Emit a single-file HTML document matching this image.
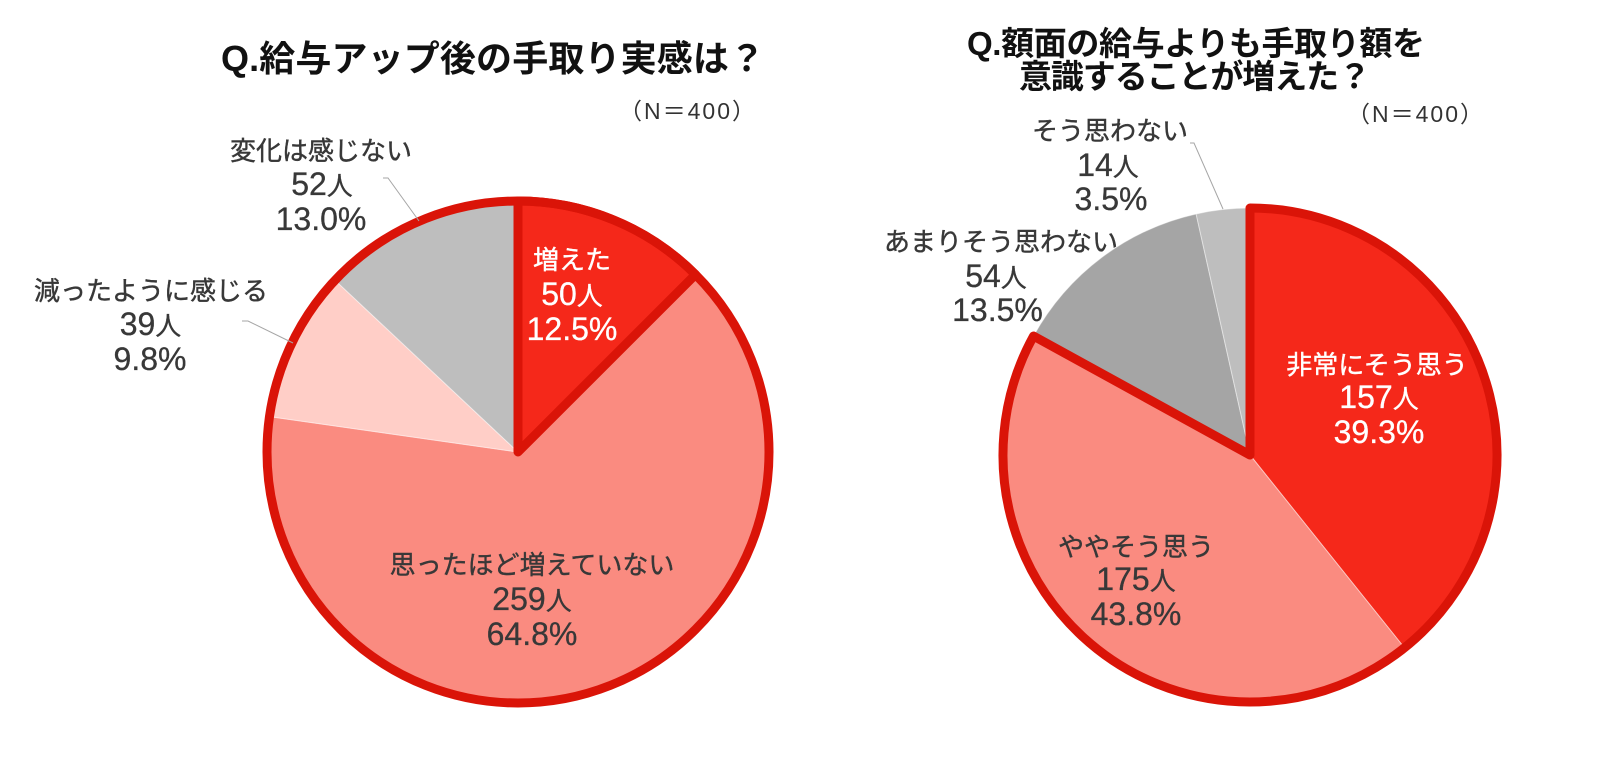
<!DOCTYPE html>
<html>
<head>
<meta charset="utf-8">
<style>
  html, body { margin: 0; padding: 0; background: #ffffff; }
  body { width: 1600px; height: 782px; overflow: hidden; }
  svg { display: block; }
  text { font-family: "Liberation Sans", "Noto Sans CJK JP", sans-serif; }
  .ttl { font-size: 36px; font-weight: bold; fill: #111111; }
  .ttl2 { font-size: 33px; font-weight: bold; fill: #111111; }
  .n { font-size: 23px; fill: #333333; letter-spacing: 2px; }
  .lb { font-size: 26px; fill: #383838; stroke: #383838; stroke-width: 0.4; }
  .num { font-size: 32px; fill: #383838; stroke: #383838; stroke-width: 0.3; }
  .w { fill: #ffffff; stroke: #ffffff; }
</style>
</head>
<body>
<svg width="1600" height="782" viewBox="0 0 1600 782" xmlns="http://www.w3.org/2000/svg">
  <!-- ===== Left chart ===== -->
  <text class="ttl" x="493" y="71" text-anchor="middle" textLength="544" lengthAdjust="spacing">Q.給与アップ後の手取り実感は？</text>
  <text class="n" x="688" y="119" text-anchor="middle">（N＝400）</text>

  <g stroke="#ffffff" stroke-opacity="0.45" stroke-width="1">
    <path d="M518,452 L518,201 A251,251 0 0 1 695.48,274.52 Z" fill="#F5281A"/>
    <path d="M518,452 L695.48,274.52 A251,251 0 1 1 269.51,416.63 Z" fill="#FA8B80"/>
    <path d="M518,452 L269.51,416.63 A251,251 0 0 1 335.03,280.18 Z" fill="#FFCEC7"/>
    <path d="M518,452 L335.03,280.18 A251,251 0 0 1 518,201 Z" fill="#BEBEBE"/>
  </g>
  <circle cx="518" cy="452" r="251" fill="none" stroke="#DA1408" stroke-width="9"/>
  <path d="M518,452 L518,201 A251,251 0 0 1 695.48,274.52 Z" fill="none" stroke="#DA1408" stroke-width="9" stroke-linejoin="round"/>

  <!-- leader lines -->
  <polyline points="383,178 388,178 419,221" fill="none" stroke="#A6A6A6" stroke-width="1"/>
  <polyline points="242,321 248,321 293,343" fill="none" stroke="#A6A6A6" stroke-width="1"/>

  <!-- outside labels -->
  <text class="lb" x="321" y="160" text-anchor="middle">変化は感じない</text>
  <text class="num" x="322" y="195" text-anchor="middle">52<tspan font-size="26">人</tspan></text>
  <text class="num" x="321" y="230" text-anchor="middle">13.0%</text>

  <text class="lb" x="151" y="300" text-anchor="middle">減ったように感じる</text>
  <text class="num" x="150.5" y="335" text-anchor="middle">39<tspan font-size="26">人</tspan></text>
  <text class="num" x="150" y="370" text-anchor="middle">9.8%</text>

  <!-- inside labels -->
  <text class="lb w" x="572" y="269" text-anchor="middle">増えた</text>
  <text class="num w" x="572" y="305" text-anchor="middle">50<tspan font-size="26">人</tspan></text>
  <text class="num w" x="572" y="340" text-anchor="middle">12.5%</text>

  <text class="lb" x="532" y="574" text-anchor="middle">思ったほど増えていない</text>
  <text class="num" x="532" y="610" text-anchor="middle">259<tspan font-size="26">人</tspan></text>
  <text class="num" x="532" y="645" text-anchor="middle">64.8%</text>

  <!-- ===== Right chart ===== -->
  <text class="ttl2" x="1196" y="55" text-anchor="middle" textLength="458" lengthAdjust="spacing">Q.額面の給与よりも手取り額を</text>
  <text class="ttl2" x="1195" y="88" text-anchor="middle" textLength="352" lengthAdjust="spacing">意識することが増えた？</text>
  <text class="n" x="1416" y="122" text-anchor="middle">（N＝400）</text>

  <g stroke="#ffffff" stroke-opacity="0.45" stroke-width="1">
    <path d="M1250,455 L1250,208 A247,247 0 0 1 1404.43,647.77 Z" fill="#F5281A"/>
    <path d="M1250,455 L1404.43,647.77 A247,247 0 0 1 1033.55,336.01 Z" fill="#FA8B80"/>
    <path d="M1250,455 L1033.55,336.01 A247,247 0 0 1 1196.12,213.95 Z" fill="#A5A5A5"/>
    <path d="M1250,455 L1196.12,213.95 A247,247 0 0 1 1250,208 Z" fill="#BEBEBE"/>
  </g>
  <path d="M1250,455 L1250,208 A247,247 0 1 1 1033.55,336.01 Z" fill="none" stroke="#DA1408" stroke-width="9" stroke-linejoin="round"/>

  <!-- leader line -->
  <polyline points="1190,143 1194,143 1223,209" fill="none" stroke="#A6A6A6" stroke-width="1"/>

  <!-- outside labels -->
  <text class="lb" x="1110" y="140" text-anchor="middle">そう思わない</text>
  <text class="num" x="1108" y="176" text-anchor="middle">14<tspan font-size="26">人</tspan></text>
  <text class="num" x="1111" y="210" text-anchor="middle">3.5%</text>

  <text class="lb" x="1001" y="251" text-anchor="middle">あまりそう思わない</text>
  <text class="num" x="996" y="287" text-anchor="middle">54<tspan font-size="26">人</tspan></text>
  <text class="num" x="997.5" y="321" text-anchor="middle">13.5%</text>

  <!-- inside labels -->
  <text class="lb w" x="1377" y="374" text-anchor="middle">非常にそう思う</text>
  <text class="num w" x="1379" y="408" text-anchor="middle">157<tspan font-size="26">人</tspan></text>
  <text class="num w" x="1379" y="443" text-anchor="middle">39.3%</text>

  <text class="lb" x="1136" y="556" text-anchor="middle">ややそう思う</text>
  <text class="num" x="1136" y="590" text-anchor="middle">175<tspan font-size="26">人</tspan></text>
  <text class="num" x="1136" y="625" text-anchor="middle">43.8%</text>
</svg>
</body>
</html>
